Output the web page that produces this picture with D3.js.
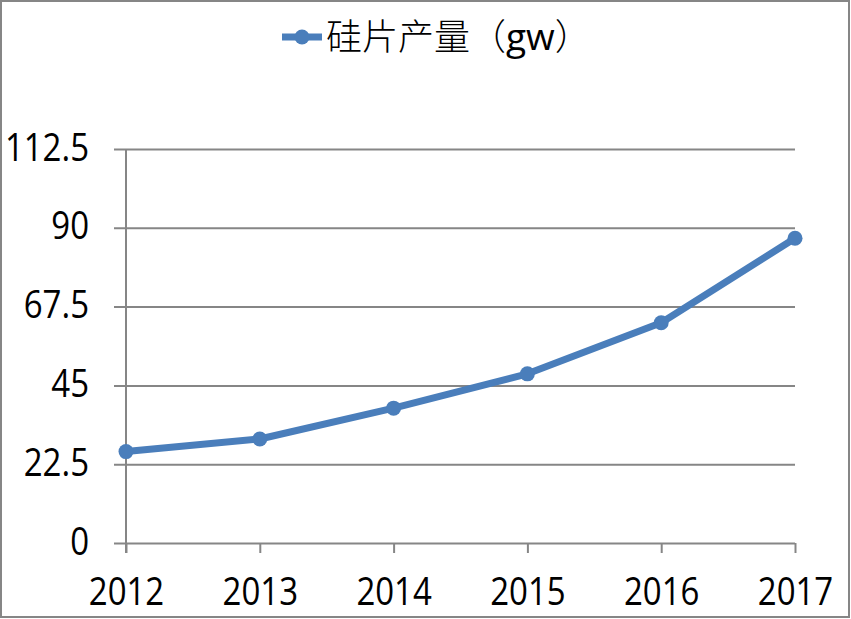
<!DOCTYPE html>
<html><head><meta charset="utf-8">
<script src="https://cdn.jsdelivr.net/npm/d3@7"></script>
<style>
html,body{margin:0;padding:0;background:#fff;}
svg{display:block;}
</style>
</head><body>
<svg id="chart" width="851" height="619"></svg>
<script>
const categories = ["2012","2013","2014","2015","2016","2017"];
const values = [26.1, 29.7, 38.5, 48.3, 62.9, 87.0];
const yTicks = [0, 22.5, 45, 67.5, 90, 112.5];
const seriesName = "硅片产量（gw）";

const W = 851, H = 619;
const margin = {left:126, right:56, top:149, bottom:76};
const svg = d3.select("#chart");

svg.append("rect").attr("x",1).attr("y",1).attr("width",W-3).attr("height",H-3)
  .attr("fill","#fff").attr("stroke","#868686").attr("stroke-width",2);

const x = d3.scalePoint().domain(categories).range([margin.left, W-margin.right]);
const y = d3.scaleLinear().domain([0,112.5]).range([H-margin.bottom, margin.top]);

const gridColor = "#868686";
const labelFont = "'Open Sans', 'DejaVu Sans', sans-serif";

// horizontal gridlines via axis
const yAxis = d3.axisLeft(y).tickValues(yTicks).tickSize(-(W-margin.left-margin.right)).tickFormat(d=>String(d));
const gy = svg.append("g").attr("transform",`translate(${margin.left},0)`).call(yAxis);
gy.select(".domain").remove();
gy.selectAll(".tick line").attr("stroke",gridColor).attr("stroke-width",2).attr("x2",W-margin.left-margin.right).attr("x1",-12);
gy.selectAll(".tick text").remove();
gy.selectAll(".tick").append("text")
  .attr("text-anchor","end")
  .attr("font-family",labelFont).attr("font-size",33).attr("fill","#000")
  .attr("transform","translate(-37,11) scale(1,1.16)")
  .text(d=>String(d));

// vertical axis line
svg.append("line").attr("x1",margin.left).attr("x2",margin.left)
  .attr("y1",y(112.5)).attr("y2",y(0)+10).attr("stroke",gridColor).attr("stroke-width",2);

// x axis
const xAxis = d3.axisBottom(x).tickSize(10).tickFormat(d=>d);
const gx = svg.append("g").attr("transform",`translate(0,${y(0)})`).call(xAxis);
gx.select(".domain").remove();
gx.selectAll(".tick line").attr("stroke",gridColor).attr("stroke-width",2);
gx.selectAll(".tick text").remove();
gx.selectAll(".tick").append("text")
  .attr("text-anchor","middle")
  .attr("font-family",labelFont).attr("font-size",33).attr("fill","#000")
  .attr("transform","translate(0,62) scale(1,1.16)")
  .text(d=>d);

// line
const color = "#4A7EBB";
const line = d3.line().x((d,i)=>x(categories[i])).y(d=>y(d));
svg.append("path").datum(values).attr("d",line)
  .attr("fill","none").attr("stroke",color).attr("stroke-width",7)
  .attr("stroke-linejoin","round").attr("stroke-linecap","round");
svg.selectAll("circle.pt").data(values).enter().append("circle")
  .attr("class","pt").attr("cx",(d,i)=>x(categories[i])).attr("cy",d=>y(d))
  .attr("r",7.5).attr("fill",color);

// legend
const lg = svg.append("g");
lg.append("line").attr("x1",282).attr("x2",322).attr("y1",37).attr("y2",37)
  .attr("stroke",color).attr("stroke-width",7);
lg.append("circle").attr("cx",302).attr("cy",37).attr("r",7.5).attr("fill",color);
const parts = seriesName.match(/^(.*（)(.*)(）)$/);
const lt = lg.append("text").attr("x",326).attr("y",50)
  .attr("font-family","'Noto Sans CJK SC', sans-serif").attr("font-weight",300)
  .attr("font-size",36).attr("fill","#000");
lt.append("tspan").text(parts[1]);
lt.append("tspan").attr("font-family",labelFont).attr("font-weight",400).attr("font-size",37).text(parts[2]);
lt.append("tspan").text(parts[3]);
</script>
</body></html>
